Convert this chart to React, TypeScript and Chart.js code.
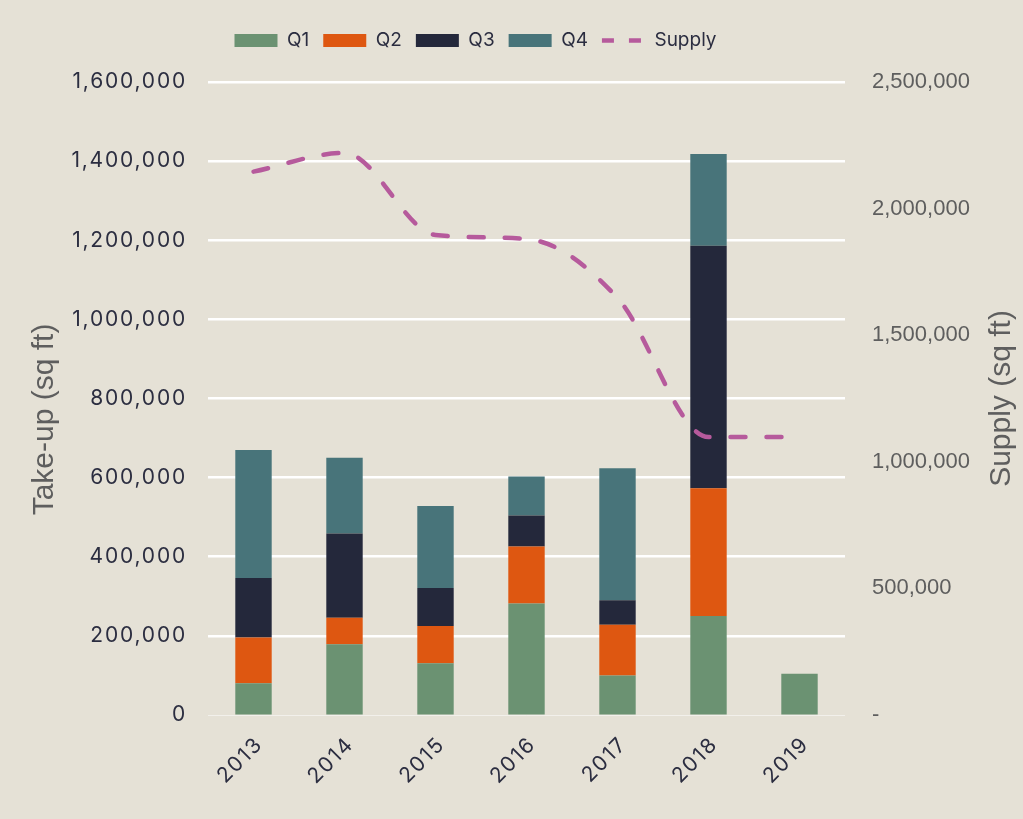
import React, { useEffect, useRef } from 'react';
import { Chart, registerables } from 'chart.js';

Chart.register(...registerables);

// ---- data ----
const years = ['2013', '2014', '2015', '2016', '2017', '2018', '2019'];
const q1 = [80000, 179000, 131000, 282000, 100000, 250000, 104000];
const q2 = [116000, 67000, 94000, 144000, 128000, 323000, null];
const q3 = [150000, 213000, 96000, 78000, 62000, 613000, null];
const q4 = [324000, 191000, 207000, 99000, 334000, 232000, null];
const supply = [2146000, 2220000, 1896000, 1880000, 1647000, 1098000, 1098000];

const seriesNames = ['Q1', 'Q2', 'Q3', 'Q4', 'Supply'];
const leftTitle = 'Take-up (sq ft)';
const rightTitle = 'Supply (sq ft)';
const leftRange = [0, 1600000, 200000];
const rightRange = [0, 2500000, 500000];

// ---- styles ----
const BG = '#E5E1D6';
const colors = ['#6B9272', '#DE5711', '#24283B', '#48747A'];
const supplyColor = '#B65A9C';
const darkText = '#2B2D40';
const grayText = '#5E5E5E';
const mainFont = 'Inter, "DejaVu Sans", sans-serif';
const armFont = '"Liberation Sans", Arial, sans-serif';

const fmt = (v: number) => v.toLocaleString('en-US');

const wrapSpacing = (scale: any, spacing: string) => {
  if (scale.__wrapped) return;
  const orig = scale.drawLabels;
  scale.drawLabels = function (area: any) {
    const ctx = this.ctx;
    ctx.save();
    ctx.letterSpacing = spacing;
    orig.call(this, area);
    ctx.restore();
  };
  scale.__wrapped = true;
};

const customPlugin = {
  id: 'customTitles',
  afterLayout(chart: any) {
    const lg = chart.legend;
    if (lg) {
      lg.left -= 36;
      lg.right -= 36;
      lg.top -= 22;
      lg.bottom -= 22;
    }
    if (chart.scales.y) wrapSpacing(chart.scales.y, '1.8px');
    if (chart.scales.x) wrapSpacing(chart.scales.x, '1.8px');
  },
  afterDraw(chart: any) {
    const { ctx, chartArea } = chart;
    const midY = (chartArea.top + chartArea.bottom) / 2;
    ctx.save();
    ctx.font = '30px ' + armFont;
    ctx.fillStyle = grayText;
    ctx.textAlign = 'center';
    ctx.textBaseline = 'middle';
    ctx.save();
    ctx.translate(45, midY + 21);
    ctx.rotate(-Math.PI / 2);
    ctx.fillText(leftTitle, 0, 0);
    ctx.restore();
    ctx.save();
    ctx.translate(chart.width - 21, midY);
    ctx.rotate(-Math.PI / 2);
    ctx.fillText(rightTitle, 0, 0);
    ctx.restore();
    ctx.restore();
  },
};

export default function App() {
  const ref = useRef<HTMLCanvasElement | null>(null);

  useEffect(() => {
    if (!ref.current) return;
    const barSets = [q1, q2, q3, q4].map((d, i) => ({
      type: 'bar' as const,
      label: seriesNames[i],
      data: d,
      backgroundColor: colors[i],
      borderWidth: 0,
      yAxisID: 'y',
      order: 1,
      pointStyle: 'rect',
      categoryPercentage: 1,
      barPercentage: 0.4,
    }));
    const chart = new Chart(ref.current, {
      type: 'bar',
      data: {
        labels: years,
        datasets: [
          ...barSets,
          {
            type: 'line' as const,
            label: seriesNames[4],
            data: supply,
            borderColor: supplyColor,
            backgroundColor: supplyColor,
            borderWidth: 4.5,
            borderDash: [15, 21],
            borderCapStyle: 'round',
            cubicInterpolationMode: 'monotone',
            pointRadius: 0,
            pointStyle: 'line',
            yAxisID: 'y1',
            order: 0,
            fill: false,
          } as any,
        ],
      },
      options: {
        animation: false,
        responsive: true,
        maintainAspectRatio: false,
        layout: { padding: { top: 39, left: 0, right: 0, bottom: 0 } },
        plugins: {
          tooltip: { enabled: false },
          legend: {
            position: 'top',
            labels: {
              usePointStyle: true,
              pointStyleWidth: 43,
              boxHeight: 13,
              padding: 14,
              color: darkText,
              font: { family: mainFont, size: 19 },
              sort: (a: any, b: any) => a.datasetIndex - b.datasetIndex,
              generateLabels: (ch: any) => {
                const items = Chart.defaults.plugins.legend.labels.generateLabels(ch);
                items.forEach((it: any) => {
                  if (it.text === 'Supply') it.lineDash = [12, 15];
                });
                return items;
              },
            },
          },
        },
        scales: {
          x: {
            stacked: true,
            grid: { display: false },
            border: { display: false },
            ticks: {
              color: darkText,
              font: { family: mainFont, size: 21 },
              maxRotation: 45,
              minRotation: 45,
              padding: 9,
              labelOffset: 6,
            },
            afterFit: (s: any) => {
              s.height = 104;
            },
          },
          y: {
            stacked: true,
            position: 'left',
            min: leftRange[0],
            max: leftRange[1],
            border: { display: false },
            grid: {
              drawTicks: false,
              color: (c: any) => (c.tick && c.tick.value === 0 ? 'rgba(255,255,255,0.5)' : '#FFFFFF'),
              lineWidth: (c: any) => (c.tick && c.tick.value === 0 ? 1 : 2.6),
            },
            ticks: {
              stepSize: leftRange[2],
              color: darkText,
              padding: 21,
              font: { family: mainFont, size: 21 },
              callback: (v: any) => fmt(Number(v)),
            },
            afterFit: (s: any) => {
              s.width = 208;
            },
          },
          y1: {
            position: 'right',
            min: rightRange[0],
            max: rightRange[1],
            border: { display: false },
            grid: { display: false, drawTicks: false },
            ticks: {
              stepSize: rightRange[2],
              color: grayText,
              padding: 27,
              font: { family: armFont, size: 22 },
              callback: (v: any) => (Number(v) === 0 ? '-' : fmt(Number(v))),
            },
            afterFit: (s: any) => {
              s.width = 178;
            },
          },
        },
      },
      plugins: [customPlugin],
    } as any);
    return () => chart.destroy();
  }, []);

  return (
    <div style={{ position: 'fixed', left: 0, top: 0, width: 1023, height: 819, background: BG }}>
      <canvas ref={ref} />
    </div>
  );
}
